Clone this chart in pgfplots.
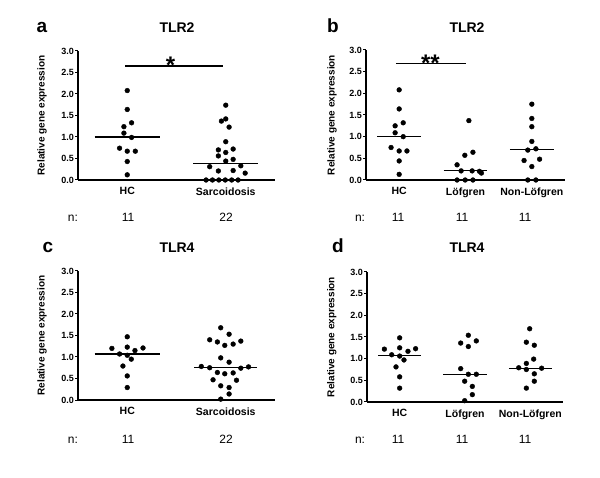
\documentclass[border=0pt]{standalone}
\usepackage{fontspec}
\setmainfont{Liberation Sans}
\usepackage{pgfplots}
\pgfplotsset{compat=1.18}
\pgfplotsset{
  pts/.style={only marks, mark=*, mark size=2.4bp, black, mark options={draw=black, fill=black}},
  med/.style={black, line width=1.2bp, no marks},
  panel/.style={
    scale only axis, anchor=south west, clip=false,
    axis x line=bottom, axis y line=left,
    axis line style={-, line width=1.2bp, black},
    ymin=0, ymax=3,
    ytick={0,0.5,1,1.5,2,2.5,3},
    yticklabel style={/pgf/number format/fixed, /pgf/number format/fixed zerofill, /pgf/number format/precision=1, /pgf/number format/assume math mode=true, font=\bfseries\fontsize{9bp}{10bp}\selectfont, inner sep=1bp},
    ytick style={line width=1bp, black},
    tick align=outside, major tick length=3bp,
    xtick style={draw=none},
    xticklabel style={font=\bfseries\fontsize{10.5bp}{12bp}\selectfont, yshift=-1bp},
    ylabel={Relative gene expression},
    every axis y label/.style={rotate=90, anchor=center, font=\bfseries\fontsize{10bp}{12bp}\selectfont},
  },
}
\begin{document}
\begin{tikzpicture}
\useasboundingbox (0,0) rectangle (600bp,478bp);
% ---------- panel a ----------
\begin{axis}[panel, at={(78bp,298bp)}, width=197bp, height=129bp,
  xmin=0.5, xmax=2.5, xtick={1,2}, xticklabels={HC,Sarcoidosis},
  every axis y label/.append style={at={(axis description cs:-0.183,0.5)}}]
\addplot[pts] coordinates {(1.0,2.08)(1.0,1.64)(0.966,1.24)(1.044,1.33)(0.966,1.09)(1.044,0.99)(0.922,0.74)(1.0,0.67)(1.082,0.67)(1.0,0.43)(1.0,0.12)};
\addplot[pts] coordinates {(2.0,1.74)(2.0,1.42)(1.956,1.37)(2.034,1.23)(2.0,0.89)(1.925,0.70)(2.075,0.72)(2.0,0.64)(1.925,0.56)(2.0,0.44)(2.075,0.48)(1.837,0.31)(2.153,0.33)(1.925,0.21)(2.075,0.22)(2.197,0.16)(1.80,0)(1.865,0)(1.93,0)(1.995,0)(2.06,0)(2.125,0)};
\addplot[med] coordinates {(0.67,1.0)(1.33,1.0)};
\addplot[med] coordinates {(1.67,0.39)(2.33,0.39)};
\draw[line width=1.2bp] (axis cs:0.98,2.65) -- (axis cs:1.97,2.65);
\node[anchor=base, font=\bfseries\fontsize{24bp}{24bp}\selectfont, inner sep=0pt] at (axis cs:1.44,2.47) {*};
\end{axis}
% ---------- panel b ----------
\begin{axis}[panel, at={(366bp,298bp)}, width=199bp, height=130bp,
  xmin=0.5, xmax=3.5, xtick={1,2,3}, xticklabels={HC,Löfgren,Non-Löfgren},
  every axis y label/.append style={at={(axis description cs:-0.171,0.5)}}]
\addplot[pts] coordinates {(1.0,2.08)(1.0,1.64)(0.939,1.25)(1.061,1.32)(0.939,1.09)(1.061,1.00)(0.878,0.75)(1.0,0.67)(1.117,0.67)(1.0,0.44)(1.0,0.13)};
\addplot[pts] coordinates {(2.051,1.37)(2.112,0.64)(1.99,0.57)(1.873,0.35)(1.934,0.21)(2.10,0.21)(2.21,0.20)(2.24,0.16)(1.873,0)(1.995,0)(2.112,0)};
\addplot[pts] coordinates {(3.0,1.75)(3.0,1.42)(3.0,1.23)(3.0,0.89)(2.939,0.69)(3.061,0.72)(2.883,0.45)(3.117,0.48)(3.0,0.31)(2.939,0)(3.061,0)};
\addplot[med] coordinates {(0.67,1.0)(1.33,1.0)};
\addplot[med] coordinates {(1.67,0.21)(2.33,0.21)};
\addplot[med] coordinates {(2.67,0.70)(3.33,0.70)};
\draw[line width=1.2bp] (axis cs:0.95,2.68) -- (axis cs:2.01,2.68);
\node[anchor=base, font=\bfseries\fontsize{24bp}{24bp}\selectfont, inner sep=0pt] at (axis cs:1.47,2.51) {**};
\end{axis}
% ---------- panel c ----------
\begin{axis}[panel, at={(78bp,78bp)}, width=197bp, height=129bp,
  xmin=0.5, xmax=2.5, xtick={1,2}, xticklabels={HC,Sarcoidosis},
  every axis y label/.append style={at={(axis description cs:-0.183,0.5)}}]
\addplot[pts] coordinates {(1.0,1.47)(0.844,1.20)(1.0,1.23)(1.16,1.21)(1.078,1.15)(0.922,1.07)(1.0,1.04)(1.041,0.95)(0.956,0.79)(1.0,0.56)(1.0,0.29)};
\addplot[pts] coordinates {(1.949,1.68)(2.034,1.53)(1.837,1.40)(1.915,1.35)(1.99,1.27)(2.075,1.30)(2.153,1.37)(1.949,0.98)(2.034,0.88)(1.752,0.78)(1.837,0.75)(2.153,0.74)(2.231,0.77)(1.915,0.64)(1.99,0.61)(2.075,0.63)(1.871,0.47)(2.109,0.46)(1.949,0.33)(2.034,0.29)(2.034,0.14)(1.949,0.02)};
\addplot[med] coordinates {(0.67,1.07)(1.33,1.07)};
\addplot[med] coordinates {(1.68,0.75)(2.32,0.75)};
\end{axis}
% ---------- panel d ----------
\begin{axis}[panel, at={(367bp,76bp)}, width=196bp, height=130bp,
  xmin=0.5, xmax=3.5, xtick={1,2,3}, xticklabels={HC,Löfgren,Non-Löfgren},
  every axis y label/.append style={at={(axis description cs:-0.179,0.5)}}]
\addplot[pts] coordinates {(1.0,1.48)(0.766,1.22)(1.0,1.25)(1.244,1.23)(1.127,1.17)(0.878,1.09)(1.0,1.06)(1.066,0.97)(0.944,0.81)(1.0,0.58)(1.0,0.32)};
\addplot[pts] coordinates {(2.051,1.54)(1.934,1.36)(2.173,1.41)(2.051,1.28)(1.934,0.77)(2.051,0.64)(2.173,0.64)(1.995,0.48)(2.112,0.36)(2.112,0.17)(1.995,0.03)};
\addplot[pts] coordinates {(2.99,1.69)(2.939,1.38)(3.061,1.31)(3.051,0.99)(2.939,0.89)(2.822,0.79)(2.939,0.75)(3.173,0.78)(3.061,0.65)(3.061,0.48)(2.939,0.32)};
\addplot[med] coordinates {(0.67,1.08)(1.33,1.08)};
\addplot[med] coordinates {(1.67,0.63)(2.33,0.63)};
\addplot[med] coordinates {(2.67,0.78)(3.33,0.78)};
\end{axis}
% ---------- headings ----------
\begin{scope}[every node/.style={anchor=base, inner sep=0pt, font=\bfseries\fontsize{19bp}{20bp}\selectfont}]
\node at (42bp,445bp) {a};
\node at (333bp,445bp) {b};
\node at (48bp,225bp) {c};
\node at (338bp,225bp) {d};
\end{scope}
\begin{scope}[every node/.style={anchor=base, inner sep=0pt, font=\bfseries\fontsize{14bp}{16bp}\selectfont}]
\node at (177bp,445bp) {TLR2};
\node at (467bp,445bp) {TLR2};
\node at (177bp,225bp) {TLR4};
\node at (467bp,225bp) {TLR4};
\end{scope}
% ---------- n rows ----------
\begin{scope}[every node/.style={anchor=base, inner sep=0pt, font=\fontsize{12bp}{14bp}\selectfont}]
\node at (73bp,256bp) {n:};
\node at (128bp,256bp) {11};
\node at (226bp,256bp) {22};
\node at (360bp,256bp) {n:};
\node at (398bp,256bp) {11};
\node at (462bp,256bp) {11};
\node at (525bp,256bp) {11};
\node at (73bp,35bp) {n:};
\node at (128bp,35bp) {11};
\node at (226bp,35bp) {22};
\node at (360bp,35bp) {n:};
\node at (398bp,35bp) {11};
\node at (462bp,35bp) {11};
\node at (525bp,35bp) {11};
\end{scope}
\end{tikzpicture}
\end{document}
